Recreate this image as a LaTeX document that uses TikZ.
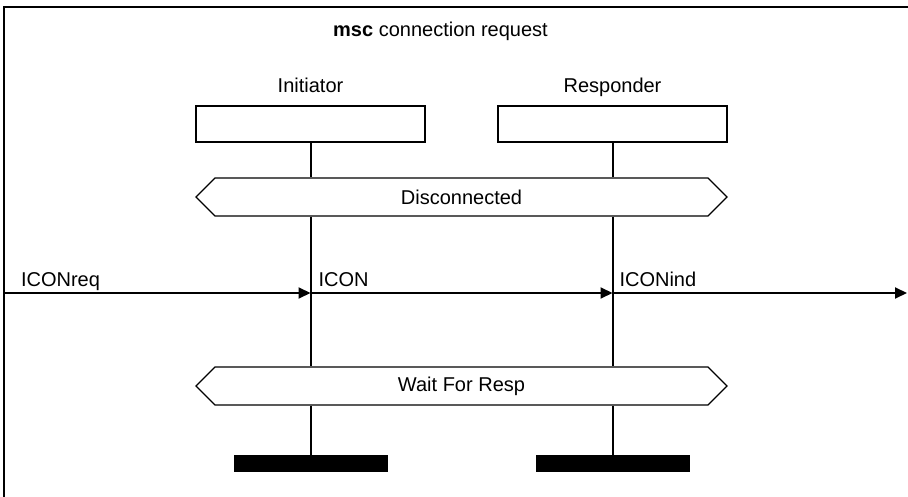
\documentclass[tikz,border=0pt]{standalone}
\usepackage{fontspec}
\setmainfont{Liberation Sans}
\usetikzlibrary{arrows.meta}
\usetikzlibrary{shapes.symbols}

\tikzset{
   instbox/.style={draw, line width=1.5pt, minimum width=229pt, minimum height=36pt, inner sep=0pt},
   instname/.style={anchor=base, inner sep=0pt},
   condbox/.style={draw, line width=1.3pt, signal, signal to=west and east,
      signal pointer angle=90, minimum width=531pt, minimum height=38pt, inner sep=0pt},
   stopbar/.style={fill=black, minimum width=154pt, minimum height=17pt, inner sep=0pt},
   lifeline/.style={line width=2pt},
   msg/.style={line width=2pt, -{Triangle[length=12pt,width=11pt]}},
   msglabel/.style={anchor=base west, inner sep=0pt}
}

\begin{document}
\begin{tikzpicture}[x=1pt, y=-1pt, font=\fontsize{20}{24}\selectfont]
   \useasboundingbox[fill=white] (0,0) rectangle (908,497);

   % frame
   \draw[line width=2pt] (4,497) -- (4,7) -- (908,7);
   \node[name=title, instname] at (440.5,37) {\textbf{msc} connection request};

   % instances
   \node[name=ini, instbox] at (310.5,124) {};
   \node[name=resp, instbox] at (612.5,124) {};
   \node[name=ininame, instname] at (310.5,93) {Initiator};
   \node[name=respname, instname] at (612.5,93) {Responder};

   % conditions
   \node[name=disc, condbox] at (461.5,197) {Disconnected};
   \node[name=wait, condbox] at (461.5,386) {Wait For Resp};

   % stops
   \node[name=inistop, stopbar] at (310.5,463.5) {};
   \node[name=respstop, stopbar] at (612.5,463.5) {};

   \foreach \i in {ini,resp} {
      \draw[lifeline] (\i.south) -- (\i.south |- disc.north);
      \draw[lifeline] (\i.south |- disc.south) -- (\i.south |- wait.north);
      \draw[lifeline] (\i.south |- wait.south) -- (\i stop.north);
   }

   % messages
   \coordinate (envl) at (4,293);
   \coordinate (envr) at (907,293);
   \draw[msg] (envl) -- (ini.south |- envl)
      node[msglabel, pos=0, xshift=16pt, yshift=6pt] (icreq) {ICONreq};
   \draw[msg] (ini.south |- envl) -- (resp.south |- envl)
      node[msglabel, pos=0, xshift=7pt, yshift=6pt] (icon) {ICON};
   \draw[msg] (resp.south |- envl) -- (envr)
      node[msglabel, pos=0, xshift=6pt, yshift=6pt] (icind) {ICONind};
\end{tikzpicture}
\end{document}
